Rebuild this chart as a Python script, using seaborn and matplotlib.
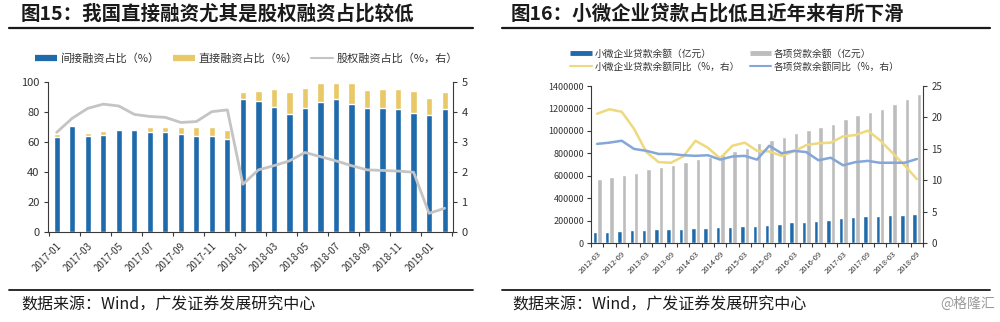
import numpy as np
import pandas as pd
import matplotlib
matplotlib.use("Agg")
import matplotlib.pyplot as plt
import matplotlib.transforms as mtransforms
from matplotlib.lines import Line2D
from matplotlib.ticker import FuncFormatter
import seaborn as sns

sns.set_theme(style="ticks")
plt.rcParams["font.family"] = ["Noto Sans CJK SC", "DejaVu Sans"]
plt.rcParams["axes.unicode_minus"] = False

# ---------------- Figure 15 data ----------------
months15 = ["2017-01", "2017-02", "2017-03", "2017-04", "2017-05", "2017-06",
            "2017-07", "2017-08", "2017-09", "2017-10", "2017-11", "2017-12",
            "2018-01", "2018-02", "2018-03", "2018-04", "2018-05", "2018-06",
            "2018-07", "2018-08", "2018-09", "2018-10", "2018-11", "2018-12",
            "2019-01", "2019-02"]
indirect15 = [63.6, 71.1, 64.0, 64.9, 68.2, 68.0, 67.1, 66.7, 65.3, 64.2, 64.0, 62.2,
              88.7, 87.8, 83.8, 78.9, 83.1, 87.1, 88.7, 85.3, 82.7, 82.7, 82.2, 79.8,
              78.2, 82.2]
direct15 = [1.7, 0.5, 2.0, 2.9, 0.5, 1.1, 3.3, 3.7, 4.7, 5.8, 6.4, 6.0,
            5.1, 6.4, 11.5, 14.4, 13.3, 12.7, 10.8, 14.0, 12.0, 12.6, 13.1, 14.4,
            11.1, 11.1]
equity15 = [3.33, 3.80, 4.13, 4.27, 4.21, 3.93, 3.86, 3.83, 3.66, 3.69, 4.02, 4.08,
            1.60, 2.08, 2.22, 2.38, 2.66, 2.52, 2.38, 2.22, 2.08, 2.06, 2.04, 2.00,
            0.63, 0.80]
labels15 = ["间接融资占比（%）", "直接融资占比（%）", "股权融资占比（%，右）"]

# ---------------- Figure 16 data ----------------
quarters16 = ["2012-03", "2012-06", "2012-09", "2012-12", "2013-03", "2013-06", "2013-09",
              "2013-12", "2014-03", "2014-06", "2014-09", "2014-12", "2015-03", "2015-06",
              "2015-09", "2015-12", "2016-03", "2016-06", "2016-09", "2016-12", "2017-03",
              "2017-06", "2017-09", "2017-12", "2018-03", "2018-06", "2018-09"]
small_loans16 = [98000, 101000, 110000, 116000, 119000, 125000, 128000, 131000, 136000,
                 136000, 142000, 148000, 154000, 157000, 166000, 175000, 187000, 193000,
                 199000, 205000, 222000, 231000, 240000, 246000, 249000, 252000, 258000]
total_loans16 = [572000, 593000, 608000, 629000, 658000, 679000, 700000, 721000, 747000,
                 765000, 795000, 822000, 851000, 890000, 919000, 943000, 985000, 1008000,
                 1038000, 1062000, 1103000, 1142000, 1171000, 1192000, 1240000, 1284000,
                 1329000]
yoy_small16 = [20.6, 21.3, 20.9, 18.2, 14.5, 12.9, 12.8, 13.8, 16.3, 15.2, 13.5, 15.5, 16.0,
               14.7, 14.6, 13.9, 14.6, 15.6, 15.9, 16.0, 17.0, 17.2, 17.9, 16.4, 14.4,
               12.4, 10.2]
yoy_total16 = [15.8, 16.0, 16.3, 15.0, 14.7, 14.2, 14.2, 14.0, 13.9, 14.0, 13.3, 13.8, 13.9,
               13.3, 15.5, 14.3, 14.7, 14.5, 13.2, 13.6, 12.4, 12.9, 13.1, 12.8, 12.8,
               12.8, 13.4]
labels16 = ["小微企业贷款余额（亿元）", "各项贷款余额（亿元）",
            "小微企业贷款余额同比（%，右）", "各项贷款余额同比（%，右）"]

BLUE = "#1f6aab"
YELLOW = "#e9c867"
GREY_LINE = "#c4c4c4"
GREY_BAR = "#bdbdbd"
YEL_LINE = "#eed97e"
BLUE_LINE = "#84a6d8"
SPINE = "#3a3a3a"
TXT = "#333333"

fig = plt.figure(figsize=(10, 3.22), dpi=100)

# ================= Left chart =================
ax1 = fig.add_axes([0.048, 0.2787, 0.405, 0.4658])
df15 = pd.DataFrame({"month": months15, "indirect": indirect15, "direct": direct15,
                     "equity": equity15})
df15["total"] = df15["indirect"] + df15["direct"]
sns.barplot(data=df15, x="month", y="total", color=YELLOW, width=0.4, saturation=1,
            ax=ax1, order=months15)
sns.barplot(data=df15, x="month", y="indirect", color=BLUE, width=0.4, saturation=1,
            ax=ax1, order=months15)
ax1.set_ylim(0, 100)
ax1.set_yticks(np.arange(0, 101, 20))
ax1.set_xlim(-0.56, len(months15) - 0.46)
ax1.set_xlabel("")
ax1.set_ylabel("")
ax1.set_xticks(np.arange(0, len(months15), 2))
ax1.set_xticklabels(months15[::2], rotation=45, ha="right", rotation_mode="anchor",
                    fontsize=7, color=TXT)
shift1 = mtransforms.ScaledTranslation(-4 / 100, 0, fig.dpi_scale_trans)
for lab in ax1.get_xticklabels():
    lab.set_transform(lab.get_transform() + shift1)
ax1.set_xticks(np.arange(-0.5, len(months15), 2), minor=True)
ax1.tick_params(axis="x", which="major", length=0, pad=6)
ax1.tick_params(axis="x", which="minor", length=3, width=0.8, color=SPINE, direction="out")
ax1.tick_params(axis="y", length=3, width=0.8, color=SPINE, labelsize=8, labelcolor=TXT, pad=3)
for s in ["top", "right"]:
    ax1.spines[s].set_visible(False)
for s in ["left", "bottom"]:
    ax1.spines[s].set_color(SPINE)
    ax1.spines[s].set_linewidth(0.8)

ax1b = ax1.twinx()
sns.lineplot(x=df15.index, y=df15["equity"], ax=ax1b, color=GREY_LINE, linewidth=2.0)
ax1b.set_ylim(0, 5)
ax1b.set_yticks(np.arange(0, 6, 1))
ax1b.set_ylabel("")
ax1b.tick_params(axis="y", length=3, width=0.8, color=SPINE, labelsize=8, labelcolor=TXT, pad=3)
for s in ["top", "left", "bottom"]:
    ax1b.spines[s].set_visible(False)
ax1b.spines["right"].set_color(SPINE)
ax1b.spines["right"].set_linewidth(0.8)

h15 = [Line2D([], [], color=BLUE, lw=4.5, solid_capstyle="butt"),
       Line2D([], [], color=YELLOW, lw=4.5, solid_capstyle="butt"),
       Line2D([], [], color=GREY_LINE, lw=1.5)]
fig.legend(h15, labels15, loc="center", bbox_to_anchor=(0.2465, 0.817), ncol=3,
           frameon=False, fontsize=8, handlelength=2.0, handletextpad=0.3,
           columnspacing=1.2, labelcolor=TXT)

# ================= Right chart =================
ax2 = fig.add_axes([0.591, 0.2444, 0.332, 0.4885])
long16 = pd.DataFrame({
    "quarter": quarters16 * 2,
    "value": small_loans16 + total_loans16,
    "series": [labels16[0]] * len(quarters16) + [labels16[1]] * len(quarters16),
})
sns.barplot(data=long16, x="quarter", y="value", hue="series", order=quarters16,
            hue_order=labels16[:2], palette=[BLUE, GREY_BAR], width=0.72, saturation=1,
            dodge=True, legend=False, ax=ax2)
ax2.set_ylim(0, 1400000)
ax2.set_yticks(np.arange(0, 1400001, 200000))
ax2.yaxis.set_major_formatter(FuncFormatter(lambda v, p: f"{int(round(v))}"))
ax2.set_xlim(-0.5, len(quarters16) - 0.5)
ax2.set_xlabel("")
ax2.set_ylabel("")
ax2.set_xticks(np.arange(0, len(quarters16), 2))
ax2.set_xticklabels(quarters16[::2], rotation=45, ha="right", rotation_mode="anchor",
                    fontsize=5.5, color=TXT)
shift2 = mtransforms.ScaledTranslation(-2 / 100, 0, fig.dpi_scale_trans)
for lab in ax2.get_xticklabels():
    lab.set_transform(lab.get_transform() + shift2)
ax2.set_xticks(np.arange(-0.5, len(quarters16), 1), minor=True)
ax2.tick_params(axis="x", which="major", length=0, pad=5)
ax2.tick_params(axis="x", which="minor", length=3, width=0.8, color=SPINE, direction="out")
ax2.tick_params(axis="y", length=3, width=0.8, color=SPINE, labelsize=6.5, labelcolor=TXT, pad=2)
for s in ["top", "right"]:
    ax2.spines[s].set_visible(False)
for s in ["left", "bottom"]:
    ax2.spines[s].set_color(SPINE)
    ax2.spines[s].set_linewidth(0.8)

ax2b = ax2.twinx()
df16 = pd.DataFrame({"quarter": quarters16, "yoy_small": yoy_small16, "yoy_total": yoy_total16})
sns.lineplot(x=df16.index, y=df16["yoy_small"], ax=ax2b, color=YEL_LINE, linewidth=1.8)
sns.lineplot(x=df16.index, y=df16["yoy_total"], ax=ax2b, color=BLUE_LINE, linewidth=1.8)
ax2b.set_ylim(0, 25)
ax2b.set_yticks(np.arange(0, 26, 5))
ax2b.set_ylabel("")
ax2b.tick_params(axis="y", length=3, width=0.8, color=SPINE, labelsize=7, labelcolor=TXT, pad=3)
for s in ["top", "left", "bottom"]:
    ax2b.spines[s].set_visible(False)
ax2b.spines["right"].set_color(SPINE)
ax2b.spines["right"].set_linewidth(0.8)

h16 = [Line2D([], [], color=BLUE, lw=3.5, solid_capstyle="butt"),
       Line2D([], [], color=GREY_BAR, lw=3.5, solid_capstyle="butt"),
       Line2D([], [], color=YEL_LINE, lw=1.5),
       Line2D([], [], color=BLUE_LINE, lw=1.5)]
order16 = [0, 2, 1, 3]
fig.legend([h16[i] for i in order16], [labels16[i] for i in order16], loc="center",
           bbox_to_anchor=(0.735, 0.813), ncol=2, frameon=False, fontsize=7,
           handlelength=2.2, handletextpad=0.3, columnspacing=1.0, labelspacing=0.3,
           labelcolor=TXT)

# ================= Titles, rules, sources =================
fig.text(0.021, 1 - 14 / 322, "图15：我国直接融资尤其是股权融资占比较低", fontsize=14,
         fontweight="bold", color="#1a1a1a", va="center", ha="left")
fig.text(0.511, 1 - 14 / 322, "图16：小微企业贷款占比低且近年来有所下滑", fontsize=14,
         fontweight="bold", color="#1a1a1a", va="center", ha="left")
for x0, x1 in [(0.009, 0.473), (0.502, 0.990)]:
    fig.add_artist(Line2D([x0, x1], [1 - 28.3 / 322] * 2, color="#1a1a1a", lw=1.6))
    fig.add_artist(Line2D([x0, x1], [1 - 290 / 322] * 2, color="#1a1a1a", lw=1.3))
fig.text(0.021, 1 - 305 / 322, "数据来源：Wind，广发证券发展研究中心", fontsize=11.5,
         color="#1a1a1a", va="center", ha="left")
fig.text(0.512, 1 - 305 / 322, "数据来源：Wind，广发证券发展研究中心", fontsize=11.5,
         color="#1a1a1a", va="center", ha="left")
fig.text(0.995, 1 - 304 / 322, "@格隆汇", fontsize=10, color="#9a9a9a", va="center", ha="right")

fig.savefig("out.png", dpi=100)
